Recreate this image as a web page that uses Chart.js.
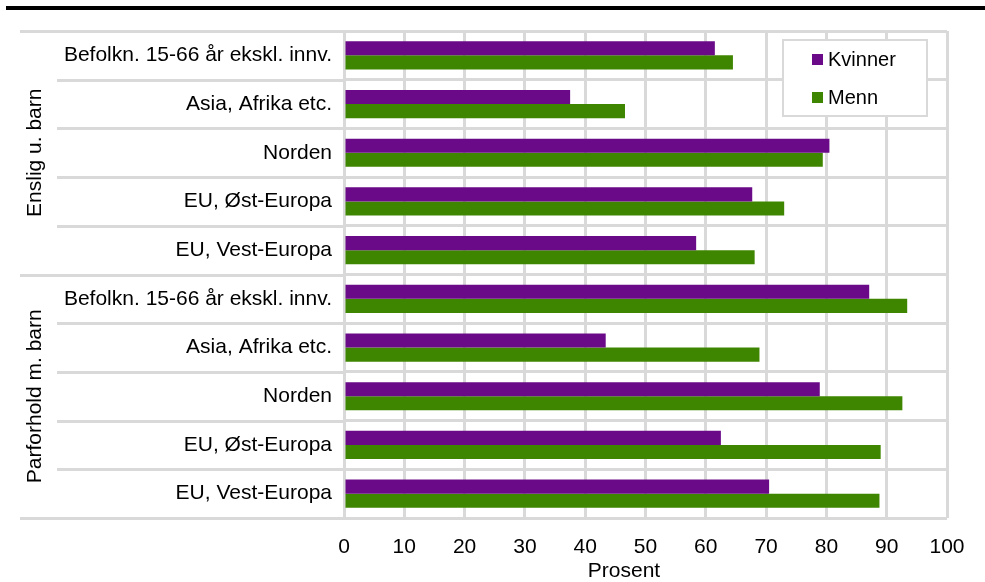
<!DOCTYPE html>
<html>
<head>
<meta charset="utf-8">
<script src="https://cdn.jsdelivr.net/npm/chart.js@4"></script>
<style>
  html, body { margin: 0; padding: 0; background: #fff; }
</style>
</head>
<body>
<canvas id="chart" width="985" height="582"></canvas>
<script>
// categories, top to bottom
var categories = [
    'Befolkn. 15-66 år ekskl. innv.', 'Asia, Afrika etc.', 'Norden', 'EU, Øst-Europa', 'EU, Vest-Europa',
    'Befolkn. 15-66 år ekskl. innv.', 'Asia, Afrika etc.', 'Norden', 'EU, Øst-Europa', 'EU, Vest-Europa'
];
var groups = ['Enslig u. barn', 'Parforhold m. barn'];
var kvinner = [61.5, 37.5, 80.5, 67.7, 58.4, 87.1, 43.4, 78.9, 62.5, 70.5];
var menn = [64.5, 46.6, 79.4, 73.0, 68.1, 93.4, 68.9, 92.6, 89.0, 88.8];
var xMin = 0, xMax = 100, xStep = 10;
var xTitle = 'Prosent';

var FONT = "'Liberation Sans', Arial, sans-serif";
var GRID = '#d9d9d9';

var decor = {
    id: 'decor',
    beforeDraw: function (chart) {
        var ctx = chart.ctx;
        ctx.save();
        ctx.fillStyle = '#fff';
        ctx.fillRect(0, 0, chart.width, chart.height);
        // black rule at top
        ctx.fillStyle = '#000';
        ctx.fillRect(6, 6, chart.width - 6, 4);
        ctx.restore();
    },
    afterDraw: function (chart) {
        var ctx = chart.ctx;
        var y = chart.scales.y;
        var a = chart.chartArea;
        var step = y.getPixelForValue(1) - y.getPixelForValue(0);
        ctx.save();
        // separators running into the label area
        ctx.strokeStyle = GRID;
        ctx.lineWidth = 3;
        for (var i = 0; i <= categories.length; i++) {
            var py = Math.round(y.getPixelForValue(i) - step / 2) + 0.5;
            var from = (i % 5 === 0) ? 20 : 57;
            ctx.beginPath();
            ctx.moveTo(from, py);
            ctx.lineTo(a.left, py);
            ctx.stroke();
        }
        // group labels
        ctx.fillStyle = '#000';
        ctx.font = '21px ' + FONT;
        ctx.textAlign = 'center';
        ctx.textBaseline = 'middle';
        groups.forEach(function (g, k) {
            var cy = (y.getPixelForValue(k * 5) + y.getPixelForValue(k * 5 + 4)) / 2;
            ctx.save();
            ctx.translate(35, cy);
            ctx.rotate(-Math.PI / 2);
            ctx.fillText(g, 0, 0);
            ctx.restore();
        });
        // axis title
        ctx.fillText(xTitle, 624, 571);
        // legend box
        ctx.fillStyle = '#fff';
        ctx.fillRect(783, 40, 144, 76);
        ctx.lineWidth = 2;
        ctx.strokeStyle = GRID;
        ctx.strokeRect(783, 40, 144, 76);
        ctx.textAlign = 'left';
        ctx.font = '20px ' + FONT;
        chart.data.datasets.forEach(function (ds, k) {
            var cy = 59 + k * 38;
            ctx.fillStyle = ds.backgroundColor;
            ctx.fillRect(812, cy - 5, 11, 11);
            ctx.fillStyle = '#000';
            ctx.fillText(ds.label, 828, cy + 1);
        });
        ctx.restore();
    }
};

var ctx = document.getElementById('chart').getContext('2d');
var chart = new Chart(ctx, {
    type: 'bar',
    data: {
        labels: categories,
        datasets: [{
            label: 'Kvinner',
            data: kvinner,
            backgroundColor: '#6a0a88',
            categoryPercentage: 0.58,
            barPercentage: 1.0
        }, {
            label: 'Menn',
            data: menn,
            backgroundColor: '#3f8600',
            categoryPercentage: 0.58,
            barPercentage: 1.0
        }]
    },
    options: {
        indexAxis: 'y',
        responsive: false,
        animation: false,
        layout: { padding: { top: 31, right: 38, left: 0, bottom: 0 } },
        plugins: {
            legend: { display: false },
            tooltip: { enabled: false }
        },
        scales: {
            x: {
                min: xMin,
                max: xMax,
                ticks: { stepSize: xStep, color: '#000', font: { size: 21, family: FONT }, padding: 17, maxRotation: 0 },
                grid: { color: GRID, lineWidth: 3, drawTicks: false },
                border: { display: false },
                afterFit: function (scale) { scale.height = 64; }
            },
            y: {
                ticks: { color: '#000', font: { size: 21, family: FONT }, padding: 12, autoSkip: false },
                grid: { color: GRID, lineWidth: 3, drawTicks: false, offset: true },
                border: { display: false },
                afterFit: function (scale) { scale.width = 344; }
            }
        }
    },
    plugins: [decor]
});
</script>
</body>
</html>
